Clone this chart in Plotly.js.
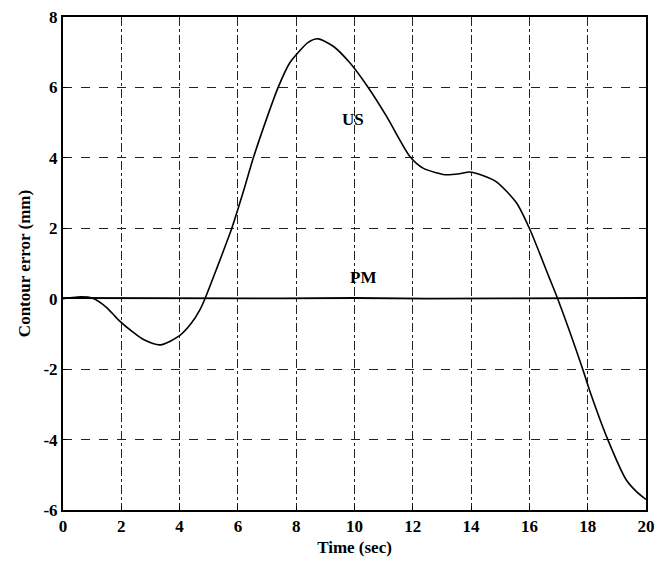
<!DOCTYPE html>
<html>
<head>
<meta charset="utf-8">
<script src="https://cdn.plot.ly/plotly-3.0.1.min.js"></script>
<style>html,body{margin:0;padding:0;background:#fff;}#chart{width:660px;height:568px;}</style>
</head>
<body>
<div id="chart"></div>
<script>
// US curve (time in sec, contour error in mm)
var usTime = [0, 0.5, 1.0, 1.5, 1.9, 2.4, 2.76, 3.34, 4.0, 4.4, 4.7, 4.87, 5.27, 5.79, 6.19, 6.53, 6.98, 7.38, 7.78, 8.13, 8.41, 8.75, 9.27, 9.84, 10.47, 11.1, 11.9, 12.35, 12.8, 13.15, 13.6, 13.95, 14.4, 14.87, 15.56, 16.0, 16.68, 16.97, 17.83, 18.06, 18.69, 19.32, 19.7, 20];
var usError = [0, 0.05, 0.02, -0.25, -0.6, -0.95, -1.16, -1.31, -1.05, -0.7, -0.31, 0, 0.85, 2.0, 3.05, 4.0, 5.1, 6.0, 6.7, 7.05, 7.28, 7.38, 7.17, 6.7, 6.0, 5.18, 4.04, 3.71, 3.58, 3.52, 3.55, 3.6, 3.5, 3.32, 2.72, 2.0, 0.6, 0, -2.0, -2.59, -4.0, -5.14, -5.5, -5.7];
// PM curve
var pmTime = [0, 2.5, 5, 7.5, 10, 12.5, 15, 17.5, 20];
var pmError = [0.02, 0.01, 0.02, 0.01, 0.02, 0.0, 0.01, 0.02, 0.02];
// ticks
var xTicks = [0, 2, 4, 6, 8, 10, 12, 14, 16, 18, 20];
var yTicks = [-6, -4, -2, 0, 2, 4, 6, 8];
// labels
var curveLabels = ["US", "PM"];
var labelX = [9.95, 10.3];
var labelY = [5.1, 0.6];

var fontFam = "Liberation Serif, Times New Roman, serif";

var traces = [
  {x: usTime, y: usError, mode: "lines", line: {color: "#000", width: 1.6, shape: "spline", smoothing: 0.7}, showlegend: false, hoverinfo: "skip"},
  {x: pmTime, y: pmError, mode: "lines", line: {color: "#000", width: 1.8}, showlegend: false, hoverinfo: "skip"}
];

var annotations = curveLabels.map(function(t, i){
  return {x: labelX[i], y: labelY[i], xref: "x", yref: "y", text: "<b>" + t + "</b>", showarrow: false,
          font: {family: fontFam, size: 17, color: "#000"}};
});

var layout = {
  width: 660, height: 568,
  margin: {l: 63, r: 14, t: 17, b: 58},
  paper_bgcolor: "#fff", plot_bgcolor: "#fff",
  font: {family: fontFam, color: "#000"},
  xaxis: {
    range: [0, 20], tickvals: xTicks, ticktext: xTicks.map(function(v){return "<b>" + v + "</b>";}),
    showgrid: true, gridcolor: "#222", gridwidth: 1, griddash: "dashdot",
    showline: true, linecolor: "#000", linewidth: 2, mirror: true,
    ticks: "inside", ticklen: 4, tickcolor: "#000",
    zeroline: false, tickfont: {family: fontFam, size: 17, color: "#000"},
    title: {text: "<b>Time (sec)</b>", font: {family: fontFam, size: 17, color: "#000"}, standoff: 6}
  },
  yaxis: {
    range: [-6, 8], tickvals: yTicks, ticktext: yTicks.map(function(v){return "<b>" + v + "</b>";}),
    showgrid: true, gridcolor: "#222", gridwidth: 1, griddash: "dash",
    showline: true, linecolor: "#000", linewidth: 2, mirror: true,
    ticks: "inside", ticklen: 4, tickcolor: "#000",
    zeroline: false, tickfont: {family: fontFam, size: 17, color: "#000"},
    title: {text: "<b>Contour error (mm)</b>", font: {family: fontFam, size: 17, color: "#000"}, standoff: 8}
  },
  annotations: annotations
};

Plotly.newPlot("chart", traces, layout, {displayModeBar: false, staticPlot: true});
</script>
</body>
</html>
